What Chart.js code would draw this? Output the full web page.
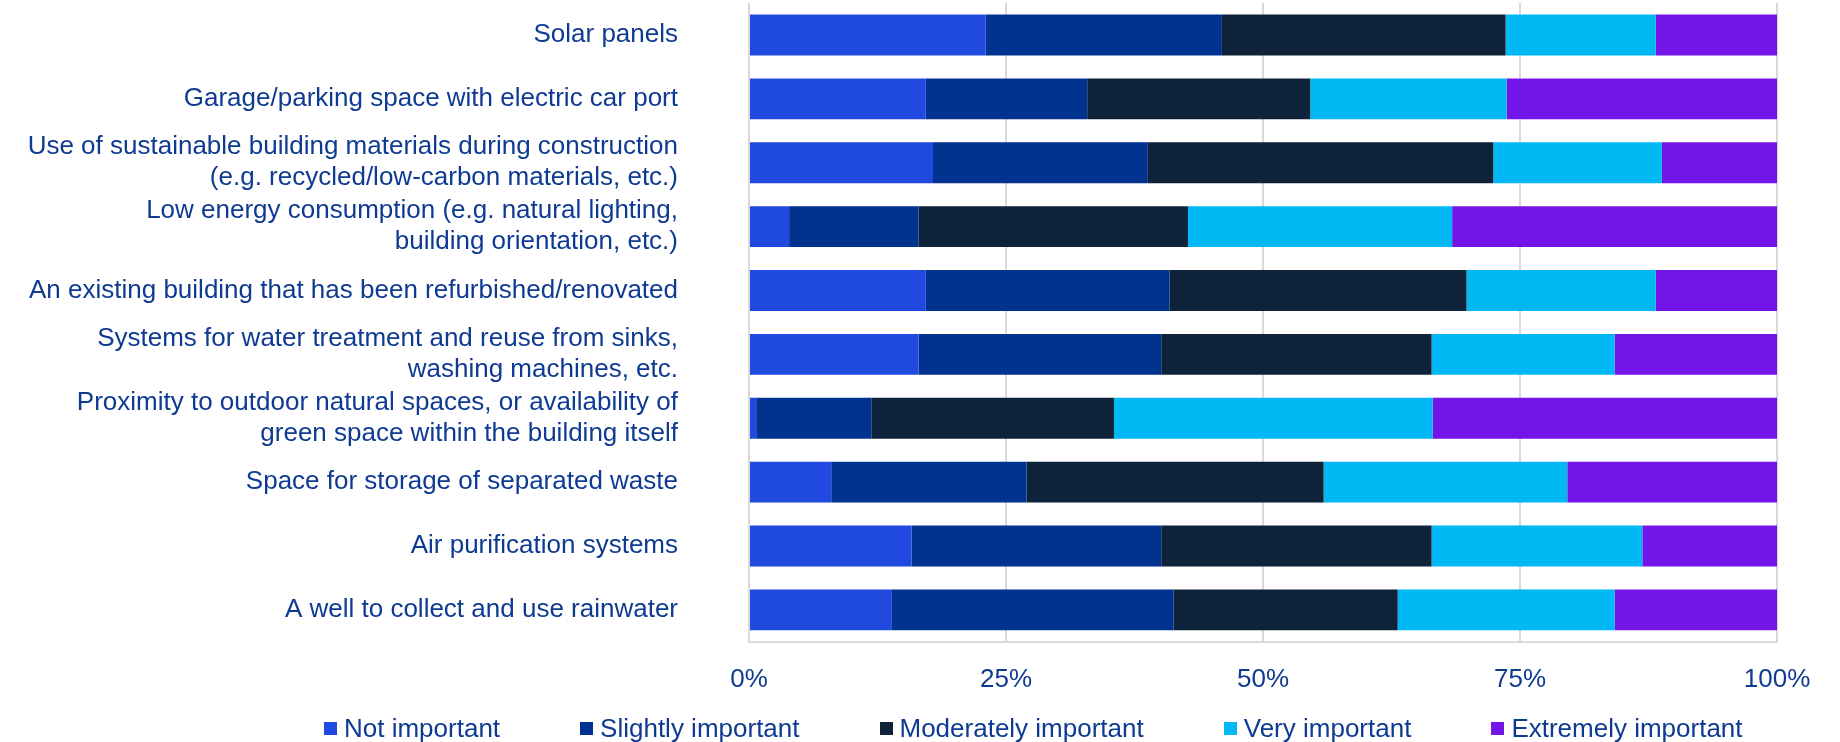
<!DOCTYPE html>
<html>
<head>
<meta charset="utf-8">
<title>Importance of sustainable building features</title>
<script src="https://cdn.jsdelivr.net/npm/chart.js@4/dist/chart.umd.min.js"></script>
<style>
  html, body { margin: 0; padding: 0; background: #fff; }
  #wrap { position: relative; width: 1840px; height: 742px; }
  #chart { position: absolute; left: 0; top: 0; }
  #legend {
    position: absolute; left: 324px; top: 713px;
    margin: 0; padding: 0; list-style: none; display: flex;
    font: 26px "Liberation Sans", Arial, sans-serif; line-height: 31px; color: #0E3A92;
    white-space: nowrap;
  }
  #legend li { display: flex; align-items: center; margin-right: 80px; }
  #legend .box { display: inline-block; width: 13px; height: 13px; margin-right: 7px; }
</style>
</head>
<body>
<div id="wrap">
  <canvas id="chart" width="1840" height="726"></canvas>
  <ul id="legend"></ul>
</div>
<script>
const categories = [
  'Solar panels',
  'Garage/parking space with electric car port',
  ['Use of sustainable building materials during construction', '(e.g. recycled/low-carbon materials, etc.)'],
  ['Low energy consumption (e.g. natural lighting,', 'building orientation, etc.)'],
  'An existing building that has been refurbished/renovated',
  ['Systems for water treatment and reuse from sinks,', 'washing machines, etc.'],
  ['Proximity to outdoor natural spaces, or availability of', 'green space within the building itself'],
  'Space for storage of separated waste',
  'Air purification systems',
  'A well to collect and use rainwater'
];

const seriesNames = ['Not important', 'Slightly important', 'Moderately important', 'Very important', 'Extremely important'];

// share of respondents (%) per feature
const notImportant        = [23.0, 17.2, 17.9,  3.9, 17.2, 16.5,  0.7,  8.0, 15.8, 13.9];
const slightlyImportant   = [23.0, 15.7, 20.9, 12.6, 23.7, 23.6, 11.2, 19.0, 24.3, 27.4];
const moderatelyImportant = [27.6, 21.7, 33.6, 26.2, 28.9, 26.3, 23.6, 28.9, 26.3, 21.8];
const veryImportant       = [14.6, 19.1, 16.4, 25.7, 18.4, 17.8, 31.0, 23.7, 20.5, 21.1];
const extremelyImportant  = [11.8, 26.3, 11.2, 31.6, 11.8, 15.8, 33.5, 20.4, 13.1, 15.8];

const xTickLabels = ['0%', '25%', '50%', '75%', '100%'];

const colors = ['#204ADF', '#00338F', '#0E2339', '#00B8F4', '#7315E7'];
const textColor = '#0E3A92';
const fontFamily = '"Liberation Sans", Arial, sans-serif';

const seriesValues = [notImportant, slightlyImportant, moderatelyImportant, veryImportant, extremelyImportant];

const datasets = seriesNames.map((name, i) => ({
  label: name,
  data: seriesValues[i],
  backgroundColor: colors[i],
  borderWidth: 0,
  barPercentage: 0.64,
  categoryPercentage: 1.0
}));

// legend as plain html under the canvas
const htmlLegend = {
  id: 'htmlLegend',
  afterUpdate(chart) {
    const list = document.getElementById('legend');
    list.innerHTML = '';
    chart.data.datasets.forEach((ds) => {
      const li = document.createElement('li');
      const box = document.createElement('span');
      box.className = 'box';
      box.style.background = ds.backgroundColor;
      li.appendChild(box);
      li.appendChild(document.createTextNode(ds.label));
      list.appendChild(li);
    });
  }
};

new Chart(document.getElementById('chart'), {
  type: 'bar',
  data: { labels: categories, datasets: datasets },
  options: {
    indexAxis: 'y',
    responsive: false,
    animation: false,
    layout: { padding: { left: 20, right: 63, top: 3, bottom: 9 } },
    plugins: {
      legend: { display: false },
      tooltip: { enabled: false }
    },
    scales: {
      x: {
        stacked: true,
        min: 0,
        max: 100,
        ticks: {
          stepSize: 25,
          padding: 22,
          color: textColor,
          font: { family: fontFamily, size: 26 },
          callback: (v) => xTickLabels[v / 25]
        },
        grid: { color: '#D9D9D9', lineWidth: 2, drawTicks: false },
        border: { display: true, color: '#D9D9D9', width: 2 }
      },
      y: {
        stacked: true,
        ticks: {
          autoSkip: false,
          padding: 71,
          color: textColor,
          font: { family: fontFamily, size: 26 }
        },
        grid: { display: false, drawTicks: false },
        border: { display: false },
        afterFit: (scale) => {
          // fixed label column; tick padding should not eat the plot height
          scale.width = 729;
          scale.paddingTop = 0;
          scale.paddingBottom = 0;
        }
      }
    }
  },
  plugins: [htmlLegend]
});
</script>
</body>
</html>
